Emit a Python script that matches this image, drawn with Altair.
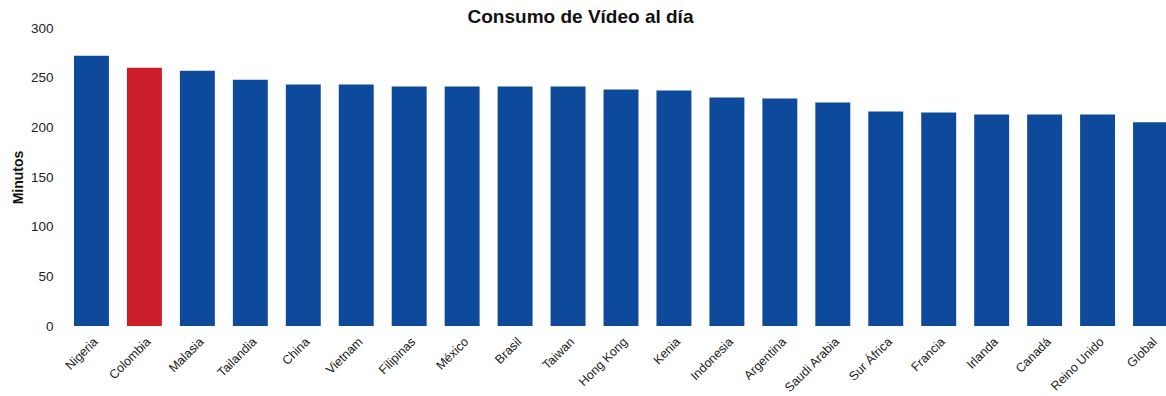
import altair as alt
import pandas as pd

paises = ["Nigeria", "Colombia", "Malasia", "Tailandia", "China", "Vietnam", "Filipinas",
          "México", "Brasil", "Taiwan", "Hong Kong", "Kenia", "Indonesia", "Argentina",
          "Saudi Arabia", "Sur África", "Francia", "Irlanda", "Canadá", "Reino Unido", "Global"]
minutos = [272, 260, 257, 248, 243, 243, 241, 241, 241, 241, 238, 237, 230, 229,
           225, 216, 215, 213, 213, 213, 205]
destacado = ["Colombia"]

df = pd.DataFrame({"pais": paises, "minutos": minutos})
df["grupo"] = ["rojo" if p in destacado else "azul" for p in paises]

chart = alt.Chart(df).mark_bar().encode(
    x=alt.X("pais:N", sort=paises, title=None,
            scale=alt.Scale(paddingInner=0.34, paddingOuter=0.17, range=[0, 1112]),
            axis=alt.Axis(labelAngle=315, labelAlign="right", labelBaseline="top",
                          labelFontSize=12.5, labelFont="Liberation Sans", labelColor="#222",
                          ticks=False, domain=False, labelPadding=9, labelOverlap=False,
                          labelLimit=200)),
    y=alt.Y("minutos:Q", title="Minutos",
            scale=alt.Scale(domain=[0, 300]),
            axis=alt.Axis(values=[0, 50, 100, 150, 200, 250, 300], grid=False, domain=False,
                          ticks=False, labelPadding=12, labelFontSize=13.5,
                          labelFont="Liberation Sans", labelColor="#222",
                          titleFont="Liberation Sans", titleFontSize=14, titleFontWeight="bold",
                          titleColor="#111", titlePadding=5)),
    color=alt.Color("grupo:N", scale=alt.Scale(domain=["azul", "rojo"],
                                               range=["#0e4a9c", "#cc1d2b"]), legend=None),
).properties(
    width=1101,
    height=298,
    title=alt.TitleParams("Consumo de Vídeo al día", font="Liberation Sans", fontSize=19,
                          fontWeight="bold", color="#111", anchor="middle", dx=-35,
                          offset=4, dy=10),
    autosize=alt.AutoSizeParams(type="none"),
    padding={"left": 65, "top": 28, "right": 0, "bottom": 70},
).configure_view(stroke=None)

chart.save("out.html", embed_options={"renderer": "svg", "actions": False})
